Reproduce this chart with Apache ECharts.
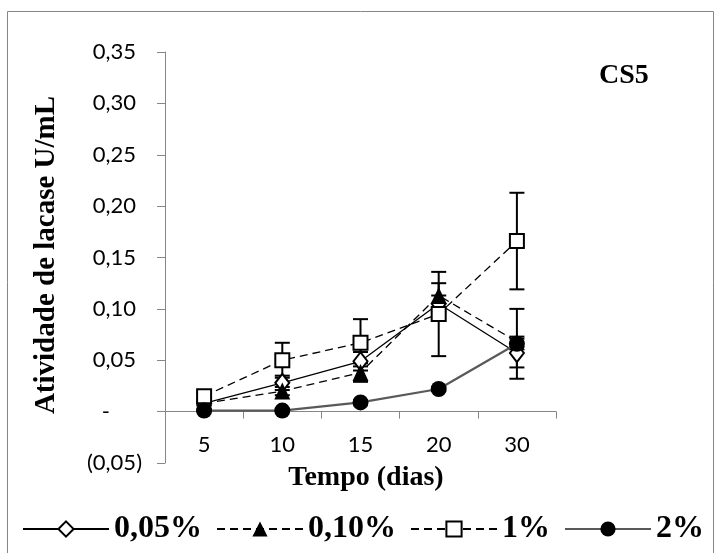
<!DOCTYPE html>
<html><head><meta charset="utf-8">
<script src="https://cdn.jsdelivr.net/npm/echarts@6/dist/echarts.min.js"></script>
<style>html,body{margin:0;padding:0;background:#fff}#c{width:720px;height:553px}</style>
</head><body><div id="c"></div>
<script>
var categories = ['5', '10', '15', '20', '30'];
var seriesNames = ['0,05%', '0,10%', '1%', '2%'];
var s005 = [0.008, 0.028, 0.049, 0.105, 0.057];
var e005 = [0.002, 0.007, 0.009, 0.008, 0.014];
var s010 = [0.008, 0.020, 0.038, 0.113, 0.068];
var e010 = [0.002, 0.004, 0.009, 0.012, 0.005];
var s1   = [0.015, 0.050, 0.067, 0.095, 0.166];
var e1   = [0.003, 0.017, 0.023, 0.041, 0.047];
var s2   = [0.001, 0.001, 0.009, 0.022, 0.066];
var e2   = [0.001, 0.001, 0.002, 0.002, 0.034];
var yTicks = {min: -0.05, max: 0.35, interval: 0.05};

var serif = '"Liberation Serif", "Times New Roman", serif';
var axisColor = '#868686';
var gridTop = 52, gridBottom = 90, plotH = 553 - gridTop - gridBottom;
var zeroOffset = -plotH * (0 - yTicks.min) / (yTicks.max - yTicks.min);

function errData(vals, errs) {
  return vals.map(function (v, i) { return [i, v - errs[i], v + errs[i]]; });
}
function errSeries(vals, errs, z) {
  return {
    type: 'custom', z: z, silent: true,
    data: errData(vals, errs),
    encode: {x: 0, y: [1, 2]},
    renderItem: function (params, api) {
      var lo = api.coord([api.value(0), api.value(1)]);
      var hi = api.coord([api.value(0), api.value(2)]);
      var w = 7.5;
      var st = {stroke: '#000', lineWidth: 2, fill: null};
      return {type: 'group', children: [
        {type: 'line', shape: {x1: hi[0], y1: hi[1], x2: lo[0], y2: lo[1]}, style: st},
        {type: 'line', shape: {x1: hi[0] - w, y1: hi[1], x2: hi[0] + w, y2: hi[1]}, style: st},
        {type: 'line', shape: {x1: lo[0] - w, y1: lo[1], x2: lo[0] + w, y2: lo[1]}, style: st}
      ]};
    }
  };
}

function yFmt(v) {
  if (Math.abs(v) < 1e-9) return '{z|-}';
  if (v < 0) return '{n|(' + Math.abs(v).toFixed(2).replace('.', ',') + ')}';
  return '{p|' + v.toFixed(2).replace('.', ',') + '}';
}
var tickFont = {fontFamily: 'Lato', fontSize: 22, color: '#000'};

var chart = echarts.init(document.getElementById('c'), null, {renderer: 'canvas'});
chart.setOption({
  animation: false,
  backgroundColor: '#fff',
  grid: {left: 165, right: 164, top: gridTop, bottom: gridBottom, containLabel: false},
  xAxis: {
    type: 'category', data: categories, boundaryGap: true, position: 'bottom', offset: zeroOffset,
    axisLine: {onZero: false, lineStyle: {color: axisColor, width: 1}},
    axisTick: {show: true, inside: false, length: 7, lineStyle: {color: axisColor}},
    axisLabel: {margin: 22, fontFamily: 'Lato', fontSize: 22, color: '#000'},
    splitLine: {show: false}
  },
  yAxis: {
    type: 'value', min: yTicks.min, max: yTicks.max, interval: yTicks.interval,
    axisLine: {show: true, lineStyle: {color: axisColor, width: 1}},
    axisTick: {show: true, length: 8, lineStyle: {color: axisColor}},
    splitLine: {show: false},
    axisLabel: {
      margin: 23, formatter: yFmt,
      rich: {
        p: Object.assign({padding: [0, 6, 0, 0]}, tickFont),
        n: Object.assign({}, tickFont),
        z: Object.assign({padding: [0, 32, 0, 0]}, tickFont)
      }
    }
  },
  legend: {
    data: seriesNames, bottom: 8, left: 22, width: 698, padding: 0,
    itemWidth: 86, itemHeight: 19, itemGap: 14,
    textStyle: {fontFamily: serif, fontWeight: 'bold', fontSize: 32, color: '#000'}
  },
  graphic: [
    {type: 'rect', shape: {x: 7.5, y: 11.5, width: 706, height: 600}, style: {fill: null, stroke: axisColor, lineWidth: 1}, z: -1},
    {type: 'text', x: 599, y: 76, style: {text: 'CS5', font: 'bold 28px ' + serif, fill: '#000', textVerticalAlign: 'middle'}},
    {type: 'text', x: 366, y: 478, style: {text: 'Tempo (dias)', font: 'bold 28px ' + serif, fill: '#000', textAlign: 'center', textVerticalAlign: 'middle'}},
    {type: 'text', x: 47, y: 255, rotation: Math.PI / 2, style: {text: 'Atividade de lacase U/mL', font: 'bold 29px ' + serif, fill: '#000', textAlign: 'center', textVerticalAlign: 'middle'}}
  ],
  series: [
    errSeries(s005, e005, 2),
    errSeries(s010, e010, 2),
    errSeries(s1, e1, 2),
    errSeries(s2, e2, 2),
    {name: seriesNames[0], type: 'line', data: s005, z: 3, symbol: 'diamond', symbolSize: [14, 18],
      lineStyle: {color: '#000', width: 1.3, type: 'solid'},
      itemStyle: {color: '#fff', borderColor: '#000', borderWidth: 2}},
    {name: seriesNames[1], type: 'line', data: s010, z: 4, symbol: 'triangle', symbolSize: [16, 17],
      lineStyle: {color: '#000', width: 1.3, type: [8, 5]},
      itemStyle: {color: '#000', borderColor: '#000', borderWidth: 0}},
    {name: seriesNames[2], type: 'line', data: s1, z: 5, symbol: 'rect', symbolSize: 14,
      lineStyle: {color: '#000', width: 1.3, type: [8, 5]},
      itemStyle: {color: '#fff', borderColor: '#000', borderWidth: 2}},
    {name: seriesNames[3], type: 'line', data: s2, z: 6, symbol: 'circle', symbolSize: 16,
      lineStyle: {color: '#595959', width: 2.2, type: 'solid'},
      itemStyle: {color: '#000', borderColor: '#000', borderWidth: 0}}
  ]
});
</script></body></html>
